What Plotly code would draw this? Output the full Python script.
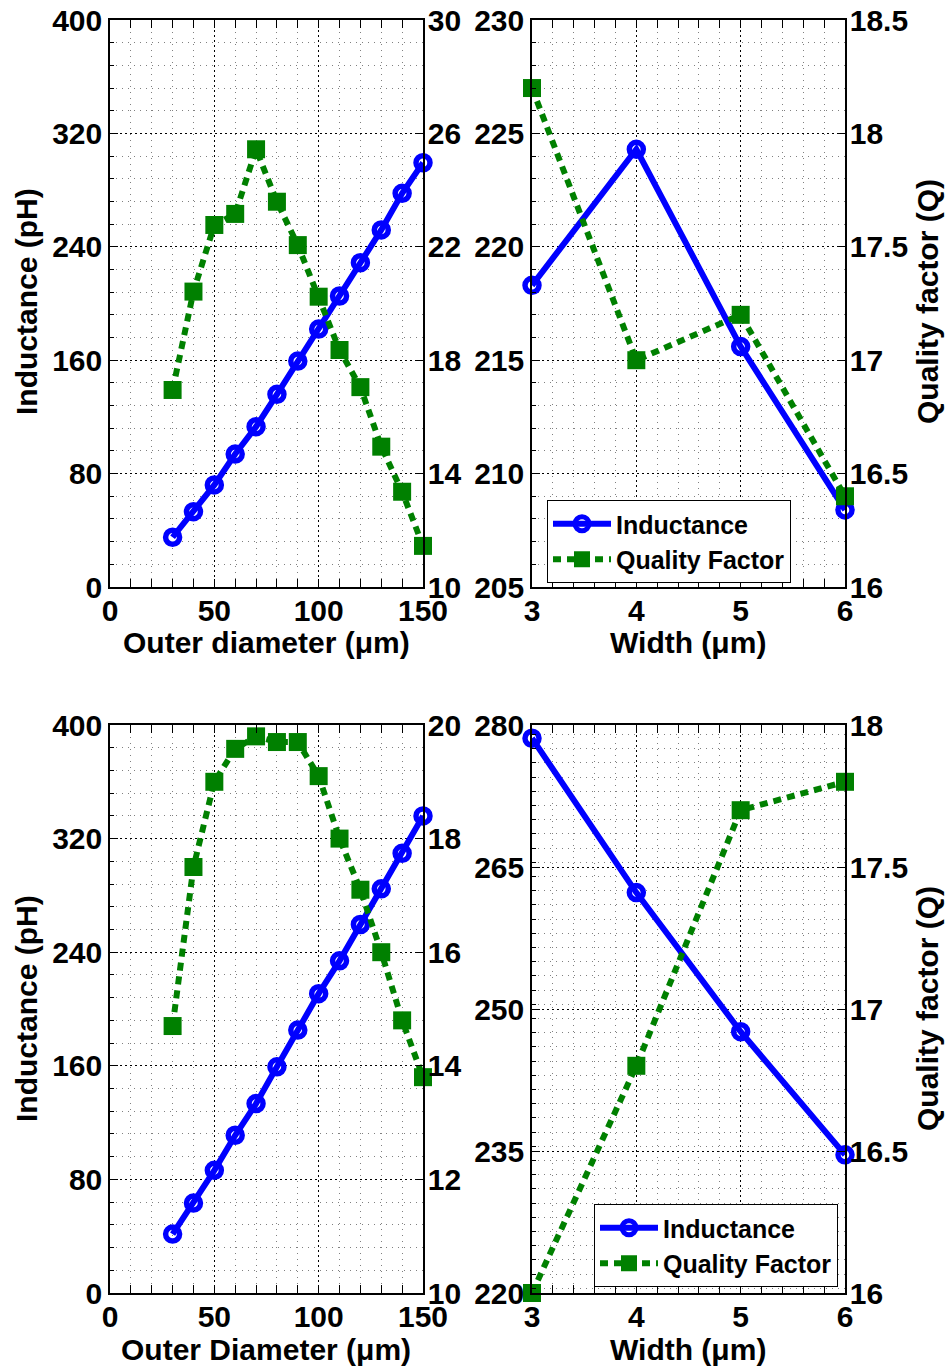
import plotly.graph_objects as go

# ---------------- data ----------------
outer_d = [30, 40, 50, 60, 70, 80, 90, 100, 110, 120, 130, 140, 150]
ind_top_left = [35.1, 53.1, 72.0, 93.8, 113.1, 135.9, 159.4, 182.0, 205.3, 228.8, 251.9, 277.7, 299.3]
q_top_left = [16.95, 20.42, 22.77, 23.16, 25.44, 23.59, 22.06, 20.24, 18.36, 17.05, 14.95, 13.36, 11.45]

width_um = [3, 4, 5, 6]
ind_top_right = [218.3, 224.3, 215.6, 208.4]
q_top_right = [18.2, 17.0, 17.2, 16.4]

ind_bot_left = [41.5, 63.3, 86.4, 111.1, 133.4, 159.3, 185.2, 210.8, 233.9, 259.5, 284.6, 309.6, 336.0]
q_bot_left = [14.7, 17.5, 19.0, 19.58, 19.8, 19.7, 19.7, 19.1, 18.0, 17.1, 16.0, 14.8, 13.8]

ind_bot_right = [278.6, 262.3, 247.6, 234.6]
q_bot_right = [16.0, 16.8, 17.7, 17.8]

W, H = 948, 1370
FONT = "Liberation Sans"
BLUE = "#0000FF"
GREEN = "#008000"

def px_x(p):
    return p / W

def px_y(p):
    return 1 - p / H

fig = go.Figure()

def add_pair(xk, yk, y2k, xs, ind, q, legend=None):
    show = legend is not None
    fig.add_trace(go.Scatter(
        x=xs, y=ind, xaxis=xk, yaxis=yk, name="Inductance",
        mode="lines+markers", cliponaxis=False,
        line=dict(color=BLUE, width=6),
        marker=dict(symbol="circle-open", size=14, color=BLUE, line=dict(width=5.5, color=BLUE)),
        showlegend=show, legend=legend if show else "legend"))
    fig.add_trace(go.Scatter(
        x=xs, y=q, xaxis=xk, yaxis=y2k, name="Quality Factor",
        mode="lines+markers", cliponaxis=False,
        line=dict(color=GREEN, width=6, dash="8px,6px"),
        marker=dict(symbol="square", size=18, color=GREEN, line=dict(width=0)),
        showlegend=show, legend=legend if show else "legend"))

add_pair("x", "y", "y2", outer_d, ind_top_left, q_top_left)
add_pair("x2", "y3", "y4", width_um, ind_top_right, q_top_right, legend="legend")
add_pair("x3", "y5", "y6", outer_d, ind_bot_left, q_bot_left)
add_pair("x4", "y7", "y8", width_um, ind_bot_right, q_bot_right, legend="legend2")

tickfont = dict(family=FONT, size=30, color="black", weight="bold")

def minor(dt):
    return dict(dtick=dt, ticks="inside", ticklen=4, tickcolor="black",
                showgrid=True, gridcolor="#808080", griddash="1px,5px", gridwidth=1)

def xaxis(domain, rng, dt, mdt, anchor):
    return dict(domain=domain, range=rng, dtick=dt, tick0=rng[0], anchor=anchor,
                automargin=False, ticklabelstandoff=-4,
                showline=True, linecolor="black", linewidth=1.5, mirror="allticks",
                ticks="inside", ticklen=8, tickcolor="black", tickwidth=1.2,
                showgrid=True, gridcolor="black", griddash="2px,3px", gridwidth=1,
                zeroline=False, tickfont=tickfont, minor=minor(mdt))

def yleft(domain, rng, dt, mdt, anchor):
    return dict(domain=domain, range=rng, dtick=dt, tick0=rng[0], anchor=anchor,
                automargin=False,
                showline=True, linecolor="black", linewidth=1.5, mirror=False,
                ticks="inside", ticklen=8, tickcolor="black", tickwidth=1.2,
                showgrid=True, gridcolor="black", griddash="2px,3px", gridwidth=1,
                zeroline=False, tickfont=tickfont, minor=minor(mdt))

def yright(rng, dt, overlay, anchor):
    return dict(range=rng, dtick=dt, tick0=rng[0], overlaying=overlay, side="right",
                anchor=anchor, automargin=False, ticklabelstandoff=-3,
                showline=True, linecolor="black", linewidth=1.5,
                ticks="inside", ticklen=8, tickcolor="black", tickwidth=1.2,
                showgrid=False, zeroline=False, tickfont=tickfont)

xl = [px_x(110), px_x(423)]
xr = [px_x(532), px_x(845)]
yt = [px_y(587), px_y(20)]
yb = [px_y(1293), px_y(725)]

legfont = dict(family=FONT, size=25, color="black", weight="bold")

fig.update_layout(
    width=W, height=H, autosize=False,
    margin=dict(l=0, r=0, t=0, b=0),
    paper_bgcolor="white", plot_bgcolor="white",
    font=dict(family=FONT, color="black"),
    xaxis=xaxis(xl, [0, 150], 50, 10, "y"),
    yaxis=yleft(yt, [0, 400], 80, 16, "x"),
    yaxis2=yright([10, 30], 4, "y", "x"),
    xaxis2=xaxis(xr, [3, 6], 1, 0.2, "y3"),
    yaxis3=yleft(yt, [205, 230], 5, 1, "x2"),
    yaxis4=yright([16, 18.5], 0.5, "y3", "x2"),
    xaxis3=xaxis(xl, [0, 150], 50, 10, "y5"),
    yaxis5=yleft(yb, [0, 400], 80, 16, "x3"),
    yaxis6=yright([10, 20], 2, "y5", "x3"),
    xaxis4=xaxis(xr, [3, 6], 1, 0.2, "y7"),
    yaxis7=yleft(yb, [220, 280], 15, 1.5, "x4"),
    yaxis8=yright([16, 18], 0.5, "y7", "x4"),
    legend=dict(x=px_x(547), y=px_y(500), xanchor="left", yanchor="top",
                bgcolor="white", bordercolor="black", borderwidth=1,
                font=legfont, itemwidth=58, tracegroupgap=0),
    legend2=dict(x=px_x(594), y=px_y(1204), xanchor="left", yanchor="top",
                 bgcolor="white", bordercolor="black", borderwidth=1,
                 font=legfont, itemwidth=58, tracegroupgap=0),
)

titlefont = dict(family=FONT, size=30, color="black", weight="bold")
ann = [
    ("Outer diameter (μm)", 266, 642, 0),
    ("Width (μm)", 688, 642, 0),
    ("Outer Diameter (μm)", 266, 1349, 0),
    ("Width (μm)", 688, 1349, 0),
    ("Inductance (pH)", 26, 302, -90),
    ("Inductance (pH)", 26, 1009, -90),
    ("Quality factor (Q)", 927, 302, -90),
    ("Quality factor (Q)", 927, 1009, -90),
]
for text, x, y, ang in ann:
    fig.add_annotation(text=text, x=px_x(x), y=px_y(y), xref="paper", yref="paper",
                       xanchor="center", yanchor="middle", showarrow=False,
                       textangle=ang, font=titlefont)

fig.write_html("out.html")
